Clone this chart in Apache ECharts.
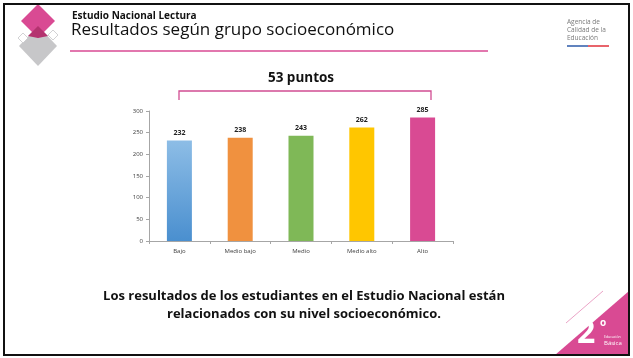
<!DOCTYPE html>
<html><head><meta charset="utf-8">
<script src="https://cdn.jsdelivr.net/npm/echarts@6/dist/echarts.min.js"></script>
<style>html,body{margin:0;padding:0;background:#fff}#c{width:633px;height:358px}</style>
</head><body><div id="c"></div>
<script>
const categories = ['Bajo', 'Medio bajo', 'Medio', 'Medio alto', 'Alto'];
const values = [232, 238, 243, 262, 285];
const barColors = ['#5b9bd5', '#f0913f', '#7fb857', '#ffc600', '#d94a93'];
const yTicks = [0, 50, 100, 150, 200, 250, 300];

const chart = echarts.init(document.getElementById('c'), null, {renderer: 'canvas'});
const font = '"Open Sans", "Noto Sans", sans-serif';

const data = values.map((v, i) => ({
  value: v,
  itemStyle: {
    color: i === 0 ? new echarts.graphic.LinearGradient(0, 0, 0, 1, [
      {offset: 0, color: '#8dbde6'}, {offset: 1, color: '#4a8fcf'}]) : barColors[i]
  }
}));

chart.setOption({
  animation: false,
  backgroundColor: '#fff',
  grid: {left: 149, right: 180, top: 111, bottom: 117},
  xAxis: {
    type: 'category', data: categories,
    axisLine: {lineStyle: {color: '#a6a6a6', width: 1}},
    axisTick: {show: true, length: 3, lineStyle: {color: '#a6a6a6'}},
    axisLabel: {fontSize: 6, color: '#404040', margin: 7, fontFamily: font}
  },
  yAxis: {
    type: 'value', min: yTicks[0], max: yTicks[yTicks.length - 1], interval: 50,
    axisLine: {show: true, lineStyle: {color: '#a6a6a6', width: 1}},
    axisTick: {show: true, length: 3, lineStyle: {color: '#a6a6a6'}},
    splitLine: {show: false},
    axisLabel: {fontSize: 6, color: '#404040', margin: 6, fontFamily: font}
  },
  series: [{
    type: 'bar', data: data, barWidth: 25,
    label: {show: true, position: 'top', fontSize: 7, fontWeight: 'bold', color: '#222', distance: 4, fontFamily: font}
  }],
  graphic: [
    {type: 'rect', shape: {x: 4, y: 4, width: 625, height: 351}, style: {fill: 'none', stroke: '#111', lineWidth: 2}, z: 100},
    // logo diamonds
    {type: 'polygon', shape: {points: [[38, 26], [57, 46], [38, 66], [19, 46]]}, style: {fill: '#c7c7c9'}},
    {type: 'polygon', shape: {points: [[38, 4], [55, 21], [38, 38], [21, 21]]}, style: {fill: '#d94a93'}},
    {type: 'polygon', shape: {points: [[38, 26], [48, 36], [38, 38], [28, 36]]}, style: {fill: '#b4336f'}},
    {type: 'polygon', shape: {points: [[23, 33], [28, 38], [23, 43], [18, 38]]}, style: {fill: '#fff', stroke: '#c7c7c9', lineWidth: 0.8}},
    {type: 'polygon', shape: {points: [[53, 30], [58, 35], [53, 40], [48, 35]]}, style: {fill: '#fff', stroke: '#c7c7c9', lineWidth: 0.8}},
    // titles
    {type: 'text', left: 72, top: 11, style: {text: 'Estudio Nacional Lectura', font: 'bold 10px ' + font, fill: '#111'}},
    {type: 'text', left: 71, top: 22, style: {text: 'Resultados según grupo socioeconómico', font: '17px ' + font, fill: '#111'}},
    {type: 'line', shape: {x1: 70, y1: 51, x2: 488, y2: 51}, style: {stroke: '#d94a93', lineWidth: 1.5}},
    // agency
    {type: 'text', left: 567, top: 18, style: {text: 'Agencia de\nCalidad de la\nEducación', font: '6.5px ' + font, fill: '#7a7a7a', lineHeight: 8}},
    {type: 'line', shape: {x1: 567, y1: 46, x2: 588, y2: 46}, style: {stroke: '#2d5aa8', lineWidth: 1.5}},
    {type: 'line', shape: {x1: 588, y1: 46, x2: 609, y2: 46}, style: {stroke: '#e0303a', lineWidth: 1.5}},
    // bracket
    {type: 'polyline', shape: {points: [[179, 100], [179, 91], [431, 91], [431, 100]]}, style: {stroke: '#d14d92', lineWidth: 1.3, fill: 'none'}},
    {type: 'text', x: 301, y: 78, style: {text: '53 puntos', font: 'bold 13.5px ' + font, fill: '#111', textAlign: 'center', textVerticalAlign: 'middle'}},
    // footer
    {type: 'text', x: 304, y: 305, style: {text: 'Los resultados de los estudiantes en el Estudio Nacional están\nrelacionados con su nivel socioeconómico.', font: 'bold 13px ' + font, fill: '#111', textAlign: 'center', textVerticalAlign: 'middle', lineHeight: 18}},
    // corner
    {type: 'polygon', shape: {points: [[555, 355], [629, 291], [629, 355]]}, style: {fill: '#d94a93'}},
    {type: 'line', shape: {x1: 566, y1: 323, x2: 603, y2: 291}, style: {stroke: '#e58bb8', lineWidth: 0.8}},
    {type: 'text', left: 577, top: 318, style: {text: '2', font: 'bold 32px ' + font, fill: '#fff'}},
    {type: 'text', left: 600, top: 318, style: {text: 'o', font: 'bold 10px ' + font, fill: '#fff'}},
    {type: 'text', left: 604, top: 335, style: {text: 'Educación', font: '3.5px ' + font, fill: '#fff'}},
    {type: 'text', left: 604, top: 340, style: {text: 'Básica', font: '6px ' + font, fill: '#fff'}}
  ]
});
</script></body></html>
